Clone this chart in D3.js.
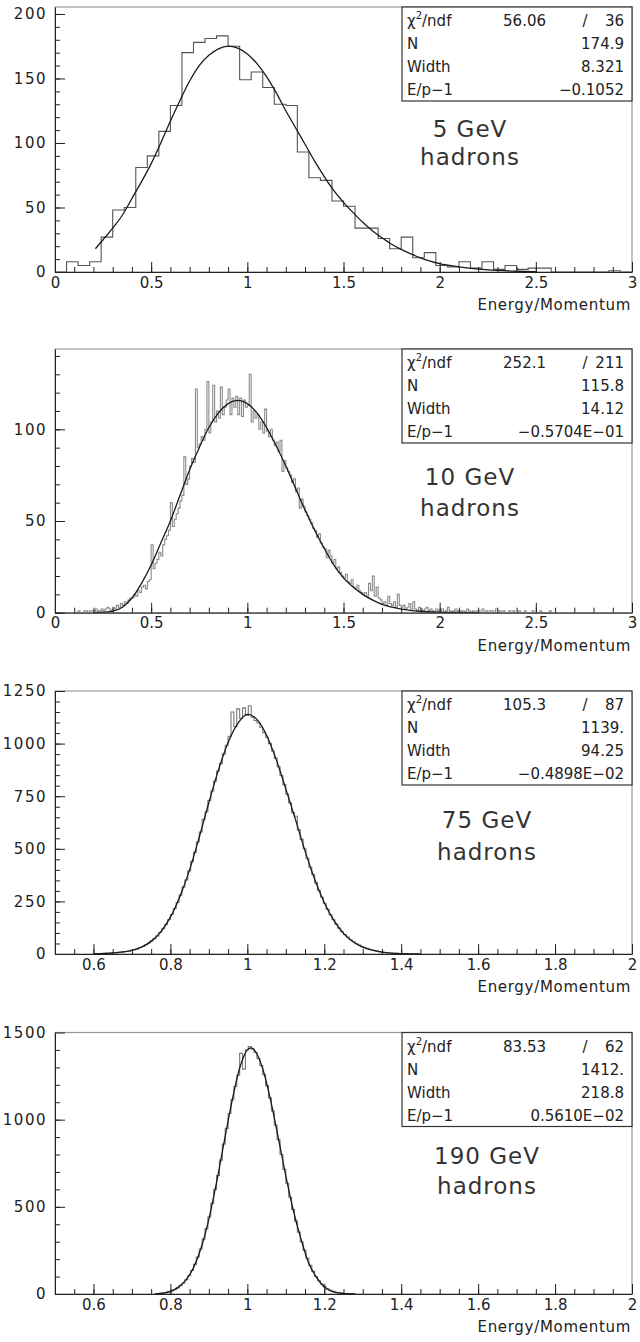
<!DOCTYPE html>
<html>
<head>
<meta charset="utf-8">
<script src="https://cdn.jsdelivr.net/npm/d3@7"></script>
<style>
body{margin:0;background:#fff;}
svg text{font-family:'DejaVu Sans',sans-serif;fill:#222;}
.axis path,.axis line{stroke:#222;stroke-width:1;}
.axis text{font-size:15px;}
.y.axis text{letter-spacing:1.5px;}
.frame{fill:none;stroke:#999;stroke-width:1.2;}
.stat-box{fill:#fff;stroke:#333;stroke-width:1.2;}
.stat text{font-size:15px;}
.energy text{font-size:23px;letter-spacing:1px;fill:#333;}
.x-title{font-size:15px;letter-spacing:0.7px;}
</style>
</head>
<body>
<div class="chart-container"></div>
<script>
// ---- data ----
const energies = ['5 GeV', '10 GeV', '75 GeV', '190 GeV'];
const particle = 'hadrons';
const x_title = 'Energy/Momentum';
const stat_names = ['N', 'Width', 'E/p\u22121'];

// tick labels
const x_ticks_wide = ['0', '0.5', '1', '1.5', '2', '2.5', '3'];
const x_ticks_narrow = ['0.6', '0.8', '1', '1.2', '1.4', '1.6', '1.8', '2'];
const y_ticks_5 = ['0', '50', '100', '150', '200'];
const y_ticks_10 = ['0', '50', '100'];
const y_ticks_75 = ['0', '250', '500', '750', '1000', '1250'];
const y_ticks_190 = ['0', '500', '1000', '1500'];

// fit results: chi2, ndf, N, Width, E/p-1
const fit_stats_5 = ['56.06', '36', '174.9', '8.321', '\u22120.1052'];
const fit_stats_10 = ['252.1', '211', '115.8', '14.12', '\u22120.5704E\u221201'];
const fit_stats_75 = ['105.3', '87', '1139.', '94.25', '\u22120.4898E\u221202'];
const fit_stats_190 = ['83.53', '62', '1412.', '218.8', '0.5610E\u221202'];

// histograms: first bin edge, bin width, contents
const hist_5_start = 0, hist_5_width = 0.06;
const hist_5 = [0, 8, 5, 8, 27, 48, 50, 81, 90, 109,
  129, 170, 178, 181, 183, 175, 149, 155, 143, 130,
  129, 93, 73, 71, 55, 51, 34, 34, 26, 18,
  27, 11, 15, 5, 4, 8, 3, 8, 2, 5,
  2, 3, 3, 0, 0, 0, 0, 0, 1, 0];

const hist_10_start = 0.10, hist_10_width = 0.01;
const hist_10 = [0, 0, 1, 0, 0, 1, 1, 0, 1, 1,
  1, 2, 1, 1, 2, 1, 2, 3, 2, 1,
  3, 2, 4, 3, 5, 4, 6, 5, 7, 8,
  8, 10, 9, 12, 11, 14, 15, 13, 17, 18,
  37, 24, 27, 29, 33, 31, 37, 40, 42, 45,
  60, 47, 51, 54, 57, 61, 64, 85, 70, 73,
  80, 84, 82, 122, 90, 92, 96, 94, 100, 126,
  98, 104, 124, 104, 110, 106, 123, 108, 112, 116,
  122, 108, 117, 112, 118, 108, 117, 107, 116, 112,
  113, 130, 104, 110, 106, 108, 100, 104, 98, 111,
  99, 96, 100, 94, 91, 93, 88, 94, 77, 83,
  79, 77, 75, 71, 73, 66, 68, 57, 62, 58,
  55, 53, 51, 49, 46, 45, 41, 43, 38, 36,
  35, 30, 34, 31, 27, 29, 24, 25, 22, 20,
  19, 21, 17, 16, 18, 14, 13, 15, 12, 11,
  10, 11, 9, 16, 12, 20, 9, 14, 8, 7,
  5, 6, 4, 9, 5, 4, 6, 3, 10, 4,
  3, 4, 2, 3, 5, 2, 6, 2, 1, 3,
  2, 1, 2, 3, 1, 2, 1, 0, 2, 1,
  1, 2, 0, 1, 3, 1, 0, 1, 2, 1,
  0, 1, 1, 0, 2, 1, 0, 1, 0, 1,
  1, 0, 2, 0, 1, 0, 1, 1, 0, 2,
  0, 1, 0, 1, 0, 0, 1, 0, 1, 0,
  0, 1, 0, 0, 1, 0, 0, 0, 1, 0,
  0, 0, 1, 0, 0, 0, 0, 1, 0, 0];

const hist_75_start = 0.605, hist_75_width = 0.0075;
const hist_75 = [1, 2, 1, 3, 2, 4, 6, 5, 8, 9,
  12, 13, 18, 20, 24, 31, 36, 44, 52, 63,
  73, 86, 103, 120, 140, 163, 188, 216, 245, 280,
  318, 352, 395, 440, 483, 532, 580, 640, 676, 730,
  775, 822, 870, 905, 950, 992, 1035, 1150, 1080, 1165,
  1120, 1170, 1135, 1180, 1125, 1110, 1098, 1078, 1052, 1030,
  1000, 965, 930, 890, 848, 805, 760, 718, 672, 655,
  590, 545, 500, 455, 412, 378, 338, 302, 270, 240,
  212, 186, 163, 142, 123, 106, 92, 80, 68, 58,
  49, 42, 35, 30, 25, 20, 17, 14, 11, 9,
  7, 6, 5, 3, 3, 2, 2, 1, 1, 1,
  0, 1, 0];

const hist_190_start = 0.7625, hist_190_width = 0.0075;
const hist_190 = [2, 3, 5, 8, 12, 17, 24, 35, 48, 62,
  82, 105, 135, 170, 212, 258, 315, 375, 442, 520,
  600, 680, 768, 860, 950, 1035, 1115, 1190, 1255, 1380,
  1290, 1400, 1420, 1405, 1385, 1350, 1310, 1258, 1195, 1125,
  1050, 968, 885, 800, 715, 635, 555, 485, 418, 355,
  300, 250, 205, 165, 130, 100, 76, 57, 42, 30,
  21, 15, 10, 7, 5, 3, 2, 1, 1];

// fitted curves, points
const fit_5_x = [0.21, 0.25, 0.30, 0.35, 0.40, 0.45, 0.50, 0.55, 0.60, 0.65, 0.70, 0.75, 0.80, 0.85, 0.90, 0.95, 1.00, 1.05, 1.10, 1.15, 1.20, 1.25, 1.30, 1.35, 1.40, 1.45, 1.50, 1.55, 1.60, 1.65, 1.70, 1.75, 1.80, 1.85, 1.90, 1.95, 2.00, 2.10, 2.20, 2.30, 2.40, 2.50];
const fit_5_y = [18, 25, 34, 44, 57, 70, 84, 100, 117, 133, 148, 160, 168, 173, 175, 173.5, 169, 161.5, 151.5, 139, 125, 112, 99, 86, 74, 63, 54, 46, 38.5, 32, 26.5, 21.5, 17.5, 14, 11, 8.5, 6.5, 4, 2.2, 1.2, 0.6, 0.3];

const fit_10_x = [0.20, 0.25, 0.30, 0.35, 0.40, 0.45, 0.50, 0.55, 0.60, 0.65, 0.70, 0.75, 0.80, 0.85, 0.90, 0.95, 1.00, 1.05, 1.10, 1.15, 1.20, 1.25, 1.30, 1.35, 1.40, 1.45, 1.50, 1.55, 1.60, 1.65, 1.70, 1.75, 1.80, 1.90, 2.00, 2.10, 2.20];
const fit_10_y = [0.1, 0.3, 0.8, 3, 8, 16, 26, 38, 50, 64, 78, 90, 101, 109, 114, 115.8, 114, 109, 101, 91, 80, 68, 56, 45, 35, 26, 19, 14, 10, 7, 4.5, 3, 2, 0.8, 0.3, 0.1, 0.05];

const fit_75_x = [0.60, 0.65, 0.70, 0.725, 0.75, 0.775, 0.80, 0.825, 0.85, 0.875, 0.90, 0.925, 0.95, 0.975, 1.00, 1.025, 1.05, 1.075, 1.10, 1.125, 1.15, 1.175, 1.20, 1.225, 1.25, 1.275, 1.30, 1.325, 1.35, 1.40, 1.45];
const fit_75_y = [1, 5, 17, 33, 60, 105, 175, 275, 400, 555, 720, 875, 1005, 1095, 1139, 1115, 1040, 925, 785, 640, 490, 355, 245, 160, 98, 58, 33, 18, 9, 2, 0.5];

const fit_190_x = [0.76, 0.78, 0.80, 0.82, 0.84, 0.86, 0.88, 0.90, 0.92, 0.94, 0.96, 0.98, 1.00, 1.01, 1.02, 1.04, 1.06, 1.08, 1.10, 1.12, 1.14, 1.16, 1.18, 1.20, 1.22, 1.24, 1.26, 1.28];
const fit_190_y = [1, 5, 15, 38, 80, 150, 265, 430, 640, 875, 1105, 1295, 1400, 1412, 1394, 1292, 1117, 902, 678, 476, 312, 175, 95, 40, 15, 5, 2, 0.5];

// ---- layout ----
const svg_width = 640;
const svg_height = 1342;
const plot_left = 55, plot_right = 632;

const panels = [
  {energy: energies[0], stats: fit_stats_5, hist: hist_5, start: hist_5_start, width: hist_5_width,
   fit_x: fit_5_x, fit_y: fit_5_y, x_ticks: x_ticks_wide, x_domain: [0, 3], x_minor: 0.1,
   y_ticks: y_ticks_5, y_max: 205.4, y_minor: 10, top: 7, bottom: 272,
   label_x: 470, label_dy: [122, 150], hist_color: '#555'},
  {energy: energies[1], stats: fit_stats_10, hist: hist_10, start: hist_10_start, width: hist_10_width,
   fit_x: fit_10_x, fit_y: fit_10_y, x_ticks: x_ticks_wide, x_domain: [0, 3], x_minor: 0.1,
   y_ticks: y_ticks_10, y_max: 143.8, y_minor: 10, top: 349, bottom: 612.7,
   label_x: 470, label_dy: [128, 159], hist_color: '#8a8a8a'},
  {energy: energies[2], stats: fit_stats_75, hist: hist_75, start: hist_75_start, width: hist_75_width,
   fit_x: fit_75_x, fit_y: fit_75_y, x_ticks: x_ticks_narrow, x_domain: [0.5, 2], x_minor: 0.05,
   y_ticks: y_ticks_75, y_max: 1250, y_minor: 50, top: 691, bottom: 954,
   label_x: 487, label_dy: [129, 161], hist_color: '#777'},
  {energy: energies[3], stats: fit_stats_190, hist: hist_190, start: hist_190_start, width: hist_190_width,
   fit_x: fit_190_x, fit_y: fit_190_y, x_ticks: x_ticks_narrow, x_domain: [0.5, 2], x_minor: 0.05,
   y_ticks: y_ticks_190, y_max: 1500, y_minor: 100, top: 1032.5, bottom: 1294,
   label_x: 487, label_dy: [123, 153], hist_color: '#777'}
];

const svg = d3.select('.chart-container')
  .append('svg')
  .attr('width', svg_width)
  .attr('height', svg_height);

svg.append('rect').attr('width', svg_width).attr('height', svg_height).attr('fill', '#fff');

function draw_panel(p, idx){
  const g = svg.append('g').attr('class', 'panel');
  const x = d3.scaleLinear().domain(p.x_domain).range([plot_left, plot_right]);
  const y = d3.scaleLinear().domain([0, p.y_max]).range([p.bottom, p.top]);

  const clip_id = 'clip' + idx;
  g.append('clipPath').attr('id', clip_id)
    .append('rect')
    .attr('x', plot_left).attr('y', p.top)
    .attr('width', plot_right - plot_left).attr('height', p.bottom - p.top);

  // frame (top/right light)
  g.append('rect').attr('class', 'frame')
    .attr('x', plot_left).attr('y', p.top)
    .attr('width', plot_right - plot_left).attr('height', p.bottom - p.top);

  // histogram as step outline
  const n = p.hist.length;
  const edge = i => p.start + i * p.width;
  const pts = [[edge(0), 0]]
    .concat(p.hist.map((v, i) => [edge(i), v]))
    .concat([[edge(n), 0]]);
  const step_line = d3.line()
    .x(d => x(d[0]))
    .y(d => y(d[1]))
    .curve(d3.curveStepAfter);
  g.append('path')
    .attr('clip-path', `url(#${clip_id})`)
    .attr('d', step_line(pts))
    .attr('fill', 'none')
    .attr('stroke', p.hist_color)
    .attr('stroke-width', 1.1);

  // fit curve
  const fit_line = d3.line()
    .x(d => x(d[0]))
    .y(d => y(d[1]))
    .curve(d3.curveMonotoneX);
  g.append('path')
    .attr('clip-path', `url(#${clip_id})`)
    .attr('d', fit_line(p.fit_x.map((v, i) => [v, p.fit_y[i]])))
    .attr('fill', 'none')
    .attr('stroke', '#1a1a1a')
    .attr('stroke-width', 1.3);

  // minor ticks
  const x_minor_vals = d3.range(p.x_domain[0], p.x_domain[1] + 1e-9, p.x_minor);
  g.append('g').attr('class', 'x axis minor')
    .attr('transform', `translate(0,${p.bottom})`)
    .call(d3.axisBottom(x).tickValues(x_minor_vals).tickSize(-5).tickFormat(''))
    .call(s => s.select('.domain').remove());
  const y_minor_vals = d3.range(0, p.y_max, p.y_minor);
  g.append('g').attr('class', 'y axis minor')
    .attr('transform', `translate(${plot_left},0)`)
    .call(d3.axisLeft(y).tickValues(y_minor_vals).tickSize(-5).tickFormat(''))
    .call(s => s.select('.domain').remove());

  // major axes
  const x_vals = p.x_ticks.map(Number);
  g.append('g').attr('class', 'x axis')
    .attr('transform', `translate(0,${p.bottom})`)
    .call(d3.axisBottom(x).tickValues(x_vals).tickSize(-10).tickSizeOuter(0)
      .tickPadding(5).tickFormat((d, i) => p.x_ticks[i]));
  const y_vals = p.y_ticks.map(Number);
  g.append('g').attr('class', 'y axis')
    .attr('transform', `translate(${plot_left},0)`)
    .call(d3.axisLeft(y).tickValues(y_vals).tickSize(-10).tickSizeOuter(0)
      .tickPadding(8).tickFormat((d, i) => p.y_ticks[i]));

  g.append('text').attr('class', 'x-title')
    .attr('x', plot_right - 1)
    .attr('y', p.bottom + 38)
    .attr('text-anchor', 'end')
    .text(x_title);

  // statistics box
  const box_left = 402, box_h = 94;
  const stat = g.append('g').attr('class', 'stat');
  stat.append('rect').attr('class', 'stat-box')
    .attr('x', box_left).attr('y', p.top)
    .attr('width', plot_right - box_left).attr('height', box_h);
  const row_y = k => p.top + 14 + k * 23;
  const chi = stat.append('text').attr('x', box_left + 5).attr('y', row_y(0))
    .attr('dominant-baseline', 'central');
  chi.append('tspan').text('\u03c7');
  chi.append('tspan').attr('font-size', 10).attr('dy', -6).text('2');
  chi.append('tspan').attr('dy', 6).text('/ndf');
  stat.append('text').attr('x', 546).attr('y', row_y(0))
    .attr('text-anchor', 'end').attr('dominant-baseline', 'central').text(p.stats[0]);
  stat.append('text').attr('x', 585).attr('y', row_y(0))
    .attr('text-anchor', 'middle').attr('dominant-baseline', 'central').text('/');
  stat.append('text').attr('x', 624).attr('y', row_y(0))
    .attr('text-anchor', 'end').attr('dominant-baseline', 'central').text(p.stats[1]);
  stat_names.forEach((name, k) => {
    stat.append('text').attr('x', box_left + 5).attr('y', row_y(k + 1))
      .attr('dominant-baseline', 'central').text(name);
    stat.append('text').attr('x', 624).attr('y', row_y(k + 1))
      .attr('text-anchor', 'end').attr('dominant-baseline', 'central').text(p.stats[k + 2]);
  });

  // energy label
  const lab = g.append('g').attr('class', 'energy');
  lab.append('text').attr('x', p.label_x).attr('y', p.top + p.label_dy[0])
    .attr('text-anchor', 'middle').attr('dominant-baseline', 'central').text(p.energy);
  lab.append('text').attr('x', p.label_x).attr('y', p.top + p.label_dy[1])
    .attr('text-anchor', 'middle').attr('dominant-baseline', 'central').text(particle);
}

panels.forEach((p, i) => draw_panel(p, i));
</script>
</body>
</html>
